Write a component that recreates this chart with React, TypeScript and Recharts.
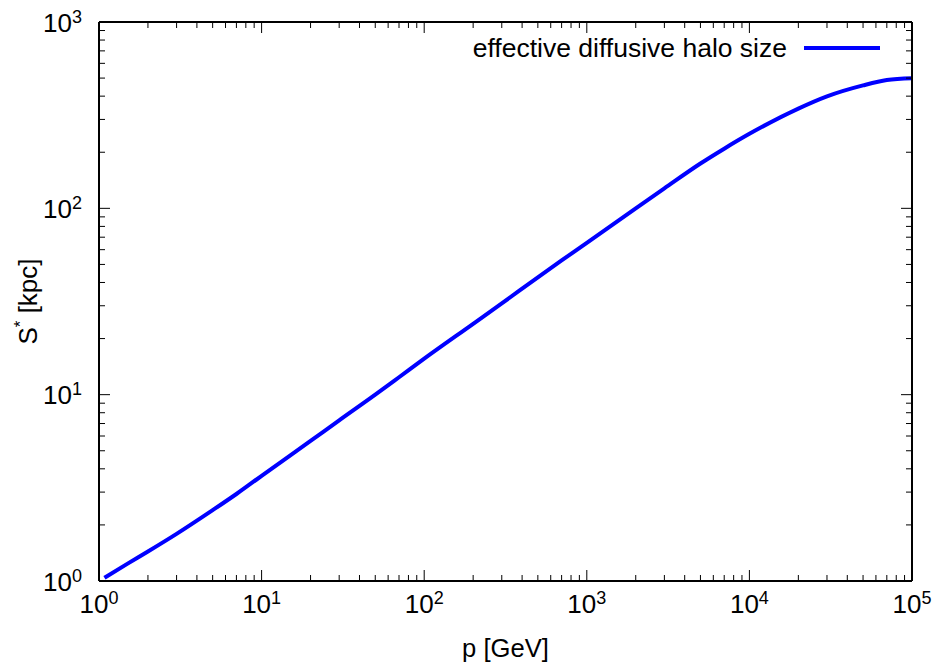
import { Legend, Line, LineChart, XAxis, YAxis } from 'recharts';

// momentum p [GeV] and effective diffusive halo size S* [kpc]
const momentum = [
  1.08, 1.5, 2, 3, 5, 7, 10, 20, 30, 50, 70, 100, 200, 300, 500, 700, 1000, 2000, 3000, 5000, 7000, 10000,
  20000, 30000, 50000, 70000, 100000,
];
const haloSize = [
  1.04, 1.24, 1.44, 1.79, 2.4, 2.93, 3.67, 5.65, 7.28, 10.0, 12.4, 15.6, 24.0, 30.9, 42.6, 52.5, 65.3, 100, 128,
  174, 209, 251, 343, 399, 457, 488, 499,
];

const xDecades = [1, 10, 100, 1000, 10000, 100000];
const yDecades = [1, 10, 100, 1000];

const data = momentum.map((p, i) => ({ p, s: haloSize[i] }));

const FONT = '"Liberation Sans", Arial, Helvetica, sans-serif';
const BLUE = '#0000ff';

// decades plus the 2..9 minor ticks in between
const withMinor = (decades: number[]) =>
  decades.flatMap((d, i) =>
    i === decades.length - 1 ? [d] : [d, 2 * d, 3 * d, 4 * d, 5 * d, 6 * d, 7 * d, 8 * d, 9 * d],
  );

const isMajor = (v: number) => Math.abs(Math.log10(v) - Math.round(Math.log10(v))) < 1e-9;
const exp = (v: number) => Math.round(Math.log10(v));

function Pow({ x, y, v, anchor }: { x: number; y: number; v: number; anchor: 'middle' | 'end' }) {
  return (
    <text x={x} y={y} textAnchor={anchor} fontSize={26} fontFamily={FONT} fill="#000">
      10
      <tspan fontSize={18} dy={-9}>
        {exp(v)}
      </tspan>
    </text>
  );
}

function BottomTick(props: any) {
  const { x, y, payload } = props;
  const major = isMajor(payload.value);
  return (
    <g>
      <line x1={x} x2={x} y1={y} y2={y - (major ? 11 : 6)} stroke="#000" strokeWidth={1} />
      {major && <Pow x={x} y={y + 32} v={payload.value} anchor="middle" />}
    </g>
  );
}

function TopTick(props: any) {
  const { x, y, payload } = props;
  const major = isMajor(payload.value);
  return <line x1={x} x2={x} y1={y} y2={y + (major ? 11 : 6)} stroke="#000" strokeWidth={1} />;
}

function LeftTick(props: any) {
  const { x, y, payload } = props;
  const major = isMajor(payload.value);
  return (
    <g>
      <line x1={x} x2={x + (major ? 11 : 6)} y1={y} y2={y} stroke="#000" strokeWidth={1} />
      {major && <Pow x={x - 17} y={y + 9.5} v={payload.value} anchor="end" />}
    </g>
  );
}

function RightTick(props: any) {
  const { x, y, payload } = props;
  const major = isMajor(payload.value);
  return <line x1={x} x2={x - (major ? 11 : 6)} y1={y} y2={y} stroke="#000" strokeWidth={1} />;
}

function LegendBox() {
  return (
    <div style={{ display: 'flex', alignItems: 'center', fontFamily: FONT, fontSize: 26.5, color: '#000', lineHeight: '30px' }}>
      <span>effective diffusive halo size</span>
      <span style={{ display: 'inline-block', width: 76, height: 4, background: BLUE, marginLeft: 17 }} />
    </div>
  );
}

export default function App() {
  const xTicks = withMinor(xDecades);
  const yTicks = withMinor(yDecades);
  const axisLine = { stroke: '#000', strokeWidth: 2 };
  return (
    <>
      <style>{'body { margin: 0; } svg.recharts-surface { overflow: visible; }'}</style>
      <LineChart width={936} height={667} data={data} margin={{ top: 21, right: 23, bottom: 0, left: 0 }}>
        <XAxis
          xAxisId="bottom"
          dataKey="p"
          type="number"
          scale="log"
          domain={[1, 100000]}
          allowDataOverflow
          ticks={xTicks}
          interval={0}
          tickSize={0}
          tickMargin={0}
          tickLine={false}
          axisLine={axisLine}
          tick={<BottomTick />}
          height={86}
          label={{
            content: (p: any) => (
              <text
                x={p.viewBox.x + p.viewBox.width / 2}
                y={p.viewBox.y + 76}
                textAnchor="middle"
                fontSize={25.6}
                fontFamily={FONT}
                fill="#000"
              >
                p [GeV]
              </text>
            ),
          }}
        />
        <XAxis
          xAxisId="top"
          dataKey="p"
          orientation="top"
          type="number"
          scale="log"
          domain={[1, 100000]}
          allowDataOverflow
          ticks={xTicks}
          interval={0}
          tickSize={0}
          tickMargin={0}
          tickLine={false}
          axisLine={axisLine}
          tick={<TopTick />}
          height={1}
        />
        <YAxis
          yAxisId="left"
          dataKey="s"
          type="number"
          scale="log"
          domain={[1, 1000]}
          allowDataOverflow
          ticks={yTicks}
          interval={0}
          tickSize={0}
          tickMargin={0}
          tickLine={false}
          axisLine={axisLine}
          tick={<LeftTick />}
          width={99}
          label={{
            content: (p: any) => {
              const cx = p.viewBox.x + 37;
              const cy = p.viewBox.y + p.viewBox.height / 2;
              return (
                <text
                  x={cx}
                  y={cy}
                  transform={`rotate(-90 ${cx} ${cy})`}
                  textAnchor="middle"
                  fontSize={26}
                  fontFamily={FONT}
                  fill="#000"
                >
                  S
                  <tspan fontSize={17} dy={-11}>
                    *
                  </tspan>
                  <tspan dy={11}> [kpc]</tspan>
                </text>
              );
            },
          }}
        />
        <YAxis
          yAxisId="right"
          dataKey="s"
          orientation="right"
          type="number"
          scale="log"
          domain={[1, 1000]}
          allowDataOverflow
          ticks={yTicks}
          interval={0}
          tickSize={0}
          tickMargin={0}
          tickLine={false}
          axisLine={axisLine}
          tick={<RightTick />}
          width={1}
        />
        <Legend
          layout="horizontal"
          verticalAlign="middle"
          align="center"
          content={() => <LegendBox />}
          wrapperStyle={{ top: 32.5, right: 56, left: 'auto', width: 'auto' }}
        />
        {/* invisible copy so the top and right frame axes get their scales */}
        <Line
          xAxisId="top"
          yAxisId="right"
          dataKey="s"
          stroke="none"
          dot={false}
          activeDot={false}
          legendType="none"
          isAnimationActive={false}
        />
        <Line
          xAxisId="bottom"
          yAxisId="left"
          dataKey="s"
          type="monotone"
          stroke={BLUE}
          strokeWidth={4}
          dot={false}
          activeDot={false}
          isAnimationActive={false}
        />
      </LineChart>
    </>
  );
}
